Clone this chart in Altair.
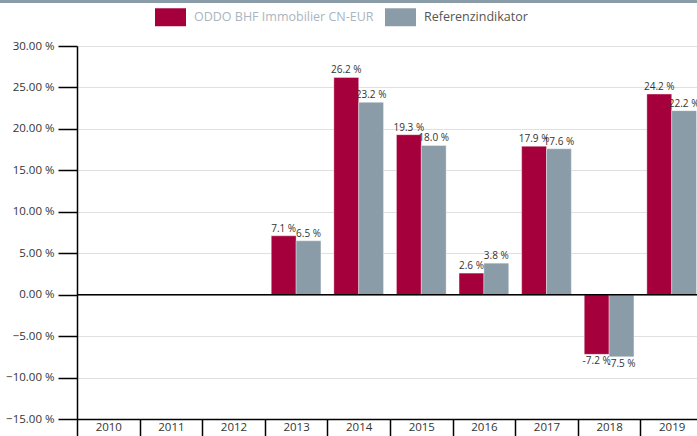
import altair as alt
import pandas as pd

years = [str(y) for y in range(2010, 2020)]
series = ["ODDO BHF Immobilier CN-EUR", "Referenzindikator"]
fund = [None, None, None, 7.1, 26.2, 19.3, 2.6, 17.9, -7.2, 24.2]
bench = [None, None, None, 6.5, 23.2, 18.0, 3.8, 17.6, -7.5, 22.2]
colors = ["#a5003b", "#8b9ca9"]
y_ticks = [-15, -10, -5, 0, 5, 10, 15, 20, 25, 30]

rows = []
for yr, f, b in zip(years, fund, bench):
    if f is not None:
        rows.append({"year": yr, "series": series[0], "value": f})
    if b is not None:
        rows.append({"year": yr, "series": series[1], "value": b})
df = pd.DataFrame(rows)
df["label"] = df["value"].map(lambda v: f"{v:.1f} %")

W, H = 620, 373
FONT = "Open Sans"

x_enc = alt.X(
    "year:N",
    scale=alt.Scale(domain=years, range=[0, 626], paddingInner=0, paddingOuter=0),
    axis=alt.Axis(
        title=None, orient="bottom", tickBand="extent", tickSize=17, tickColor="#000",
        tickWidth=1.5, domainColor="#000", domainWidth=1.5, labelAngle=0,
        labelFont=FONT, labelFontSize=11.5, labelColor="#333", labelPadding=-15,
        labelBaseline="top", grid=False,
    ),
)
xo_enc = alt.XOffset("series:N", sort=series,
                     scale=alt.Scale(domain=series, paddingOuter=0.26, paddingInner=0))
y_enc = alt.Y(
    "value:Q",
    scale=alt.Scale(domain=[-15, 30], nice=False, zero=False),
    axis=alt.Axis(
        title=None, values=y_ticks, labelExpr="format(datum.value, '.2f') + ' %'",
        tickSize=19, tickColor="#000", tickWidth=1.5, domainColor="#000", domainWidth=1.5,
        labelFont=FONT, labelFontSize=11.5, labelColor="#333", labelPadding=4,
        gridColor="#e0e0e0", gridWidth=1,
    ),
)

legend = alt.Legend(
    orient="none", legendX=78, legendY=-44.5, direction="horizontal", title=None,
    symbolType="M-1,-0.58L1,-0.58L1,0.58L-1,0.58Z", symbolSize=961,
    symbolStrokeWidth=0, symbolOpacity=1, labelFont=FONT, labelFontSize=12.5,
    labelOffset=8, columnPadding=11, padding=0, labelLimit=400,
    labelColor=alt.ExprRef(expr="datum.value == 'Referenzindikator' ? '#555555' : '#aab5c0'"),
)

base = alt.Chart(df)

bars = base.mark_bar(stroke="#ffffff", strokeWidth=0.6, strokeOpacity=0.6).encode(
    x=x_enc, xOffset=xo_enc, y=y_enc,
    y2=alt.datum(0),
    color=alt.Color("series:N", scale=alt.Scale(domain=series, range=colors), legend=legend),
)

pos_labels = base.transform_filter("datum.value >= 0").mark_text(
    font=FONT, fontSize=10, color="#333", baseline="middle", dy=-7
).encode(x=x_enc, xOffset=xo_enc, y=y_enc, text="label:N")

neg_labels = base.transform_filter("datum.value < 0").mark_text(
    font=FONT, fontSize=10, color="#333", baseline="middle", dy=7
).encode(x=x_enc, xOffset=xo_enc, y=y_enc, text="label:N")

zero = alt.Chart(pd.DataFrame({"z": [0]})).mark_rule(color="#000", strokeWidth=1.5).encode(
    y=alt.Y("z:Q", scale=alt.Scale(domain=[-15, 30], nice=False, zero=False))
)

top_band = alt.Chart(pd.DataFrame({"z": [0]})).mark_rule(color="#8b9ca9", strokeWidth=3).encode(
    x=alt.value(-77), x2=alt.value(W), y=alt.value(-44.5)
)

chart = alt.layer(bars, zero, pos_labels, neg_labels, top_band).properties(
    width=W, height=H,
    autosize=alt.AutoSizeParams(type="none"),
    padding={"left": 77, "top": 46, "right": 0, "bottom": 17},
).configure_view(stroke=None).configure(background="#ffffff")

chart.save("out.html", embed_options={"renderer": "svg", "actions": False})
